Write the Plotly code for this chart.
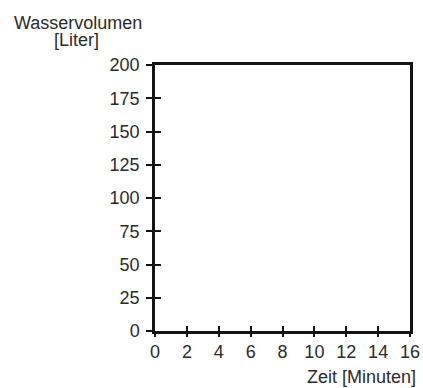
import plotly.graph_objects as go

# Data (the chart is an empty answer grid)
time_minutes = []
water_volume_liters = []
x_ticks = [0, 2, 4, 6, 8, 10, 12, 14, 16]
y_ticks = [0, 25, 50, 75, 100, 125, 150, 175, 200]
x_title = "Zeit [Minuten]"
y_title_lines = ["Wasservolumen", "[Liter]"]

FONT = "Liberation Sans, Arial, sans-serif"
TXT = "#2b2b2b"
LINE = "#141414"
FS = 18

fig = go.Figure()
fig.add_trace(go.Scatter(x=time_minutes, y=water_volume_liters, mode="lines",
                         line=dict(color=LINE), showlegend=False))
fig.add_trace(go.Scatter(x=time_minutes, y=water_volume_liters, mode="lines",
                         xaxis="x2", yaxis="y2", showlegend=False))

xr = [x_ticks[0], x_ticks[-1]]
yr = [y_ticks[0], y_ticks[-1]]

fig.update_layout(
    width=423, height=388, autosize=False,
    margin=dict(l=155, r=13, t=65, b=57, pad=0, autoexpand=False),
    paper_bgcolor="white", plot_bgcolor="white",
    font=dict(family=FONT, size=FS, color=TXT),
    xaxis=dict(range=xr, tickvals=x_ticks, ticks="outside", ticklen=3,
               tickwidth=1.5, tickcolor=LINE, showgrid=False, zeroline=False,
               showline=True, linecolor=LINE, linewidth=2.5, mirror=True,
               automargin=False),
    yaxis=dict(range=yr, tickvals=y_ticks, ticks="outside", ticklen=6,
               tickwidth=1.5, tickcolor=LINE, showgrid=False, zeroline=False,
               showline=True, linecolor=LINE, linewidth=2.5, mirror=True,
               ticklabelstandoff=3, automargin=False),
    xaxis2=dict(range=xr, tickvals=x_ticks, ticks="inside", ticklen=5,
                tickwidth=1.5, tickcolor=LINE, showgrid=False, zeroline=False,
                showline=False, showticklabels=False, overlaying="x",
                side="bottom", anchor="y2", automargin=False),
    yaxis2=dict(range=yr, tickvals=y_ticks, ticks="inside", ticklen=6,
                tickwidth=1.5, tickcolor=LINE, showgrid=False, zeroline=False,
                showline=False, showticklabels=False, overlaying="y",
                side="left", anchor="x2", automargin=False),
    annotations=[
        dict(text=y_title_lines[0], xref="paper", yref="paper", x=-0.302, y=1.158,
             xanchor="center", yanchor="middle", showarrow=False,
             font=dict(family=FONT, size=FS, color=TXT)),
        dict(text=y_title_lines[1], xref="paper", yref="paper", x=-0.306, y=1.093,
             xanchor="center", yanchor="middle", showarrow=False,
             font=dict(family=FONT, size=FS, color=TXT)),
        dict(text=x_title, xref="paper", yref="paper", x=1.0314, y=-0.1748,
             xanchor="right", yanchor="middle", showarrow=False,
             font=dict(family=FONT, size=FS, color=TXT)),
    ],
)

fig.write_html("out.html", config={"displayModeBar": False},
               post_script="document.body.style.margin='0';")
